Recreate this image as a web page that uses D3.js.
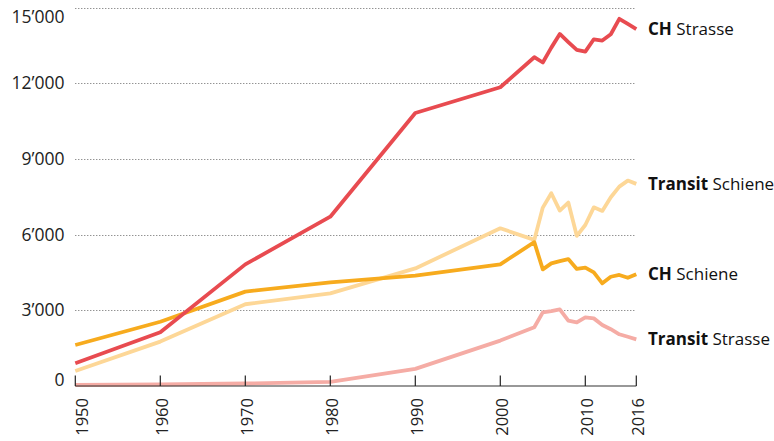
<!DOCTYPE html>
<html>
<head>
<meta charset="utf-8">
<script src="https://cdn.jsdelivr.net/npm/d3@7"></script>
<style>
  html, body { margin: 0; padding: 0; background: #fff; }
  svg { display: block; font-family: "Open Sans", "Noto Sans", sans-serif; }
</style>
</head>
<body>
<svg id="chart"></svg>
<script>
const W = 774, H = 441;

// years of the series (2000 then yearly from 2004)
const years = [1950, 1960, 1970, 1980, 1990, 2000, 2004, 2005, 2006, 2007, 2008, 2009, 2010, 2011, 2012, 2013, 2014, 2015, 2016];

const chStrasse      = [900, 2130, 4820, 6710, 10820, 11840, 13030, 12820, 13410, 13950, 13630, 13320, 13250, 13740, 13690, 13940, 14550, 14350, 14140];
const chSchiene      = [1625, 2545, 3740, 4110, 4370, 4820, 5700, 4620, 4860, 4950, 5030, 4640, 4690, 4500, 4070, 4330, 4400, 4290, 4430];
const transitSchiene = [595, 1760, 3240, 3670, 4660, 6250, 5790, 7070, 7640, 6950, 7270, 5950, 6380, 7080, 6940, 7480, 7900, 8140, 8010];
const transitStrasse = [40, 60, 100, 160, 680, 1800, 2330, 2920, 2970, 3040, 2590, 2520, 2720, 2680, 2420, 2250, 2050, 1950, 1850];

const yTicks = [0, 3000, 6000, 9000, 12000, 15000];
const xTicks = [1950, 1960, 1970, 1980, 1990, 2000, 2010, 2016];

// drawn back to front
const series = [
  { bold: "Transit", rest: " Strasse", values: transitStrasse, color: "#f5aca5" },
  { bold: "Transit", rest: " Schiene", values: transitSchiene, color: "#fdd797" },
  { bold: "CH", rest: " Schiene", values: chSchiene, color: "#f7ab1e" },
  { bold: "CH", rest: " Strasse", values: chStrasse, color: "#e84b50" }
];

const svg = d3.select("#chart").attr("width", W).attr("height", H);

const x = d3.scaleLinear().domain([1950, 2016]).range([75.3, 636.3]);
const y = d3.scaleLinear().domain([0, 15000]).range([386, 7.5]);

const fmt = v => d3.format(",")(v).replace(/,/g, "\u2019");

// dotted grid lines
svg.append("g").selectAll("line").data(yTicks.filter(d => d > 0)).join("line")
  .attr("x1", x(1950)).attr("x2", x(2016))
  .attr("y1", d => Math.round(y(d)) + 0.5).attr("y2", d => Math.round(y(d)) + 0.5)
  .attr("stroke", "#666").attr("stroke-width", 1)
  .attr("stroke-dasharray", "1,2");

// y labels
svg.append("g").selectAll("text").data(yTicks).join("text")
  .attr("x", 64.5)
  .attr("y", d => d === 0 ? y(d) - 6 : d === 15000 ? y(d) + 9 : y(d))
  .attr("dy", "0.35em")
  .attr("text-anchor", "end")
  .attr("font-size", 17.5)
  .attr("fill", "#222")
  .text(fmt);

// lines
const line = d3.line().x((d, i) => x(years[i])).y(d => y(d));
svg.append("g").selectAll("path").data(series).join("path")
  .attr("d", d => line(d.values))
  .attr("fill", "none")
  .attr("stroke", d => d.color)
  .attr("stroke-width", 3.8)
  .attr("stroke-linejoin", "round");

// x axis, ticks point up
const ax = svg.append("g").attr("transform", `translate(0,${y(0)})`);
ax.append("line").attr("x1", x(1950)).attr("x2", x(2016))
  .attr("stroke", "#333").attr("stroke-width", 1.2);
ax.selectAll(".tk").data(xTicks).join("line").attr("class", "tk")
  .attr("x1", d => x(d)).attr("x2", d => x(d))
  .attr("y1", 0).attr("y2", -10.5)
  .attr("stroke", "#222").attr("stroke-width", 1.2);
ax.selectAll("text").data(xTicks).join("text")
  .attr("transform", d => `translate(${x(d) + (d === 1950 ? 6.5 : 1.5)},12) rotate(-90)`)
  .attr("dy", "0.35em")
  .attr("text-anchor", "end")
  .attr("font-size", 16.5)
  .attr("fill", "#222")
  .text(d => d);

// end labels
const lab = svg.append("g").selectAll("text").data(series).join("text")
  .attr("x", 648)
  .attr("y", d => y(d.values[d.values.length - 1]))
  .attr("dy", "0.35em")
  .attr("font-size", 17)
  .attr("fill", "#111");
lab.append("tspan").attr("font-weight", "bold").text(d => d.bold);
lab.append("tspan").text(d => d.rest);
</script>
</body>
</html>
